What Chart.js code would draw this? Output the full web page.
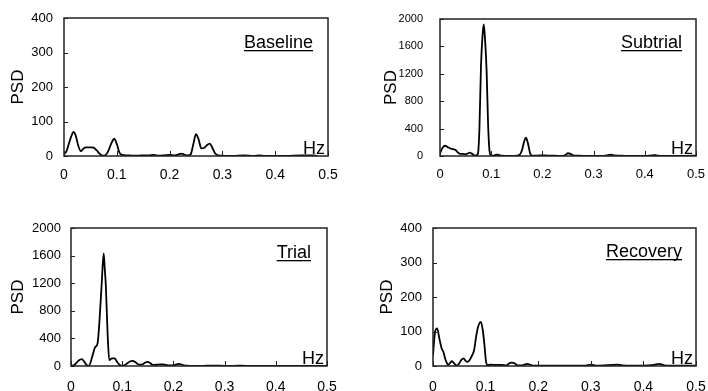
<!DOCTYPE html>
<html lang="en">
  <head>
    <meta charset="UTF-8" />
    <title>PSD panels</title>
    <style>
      body { margin: 0; background: #fff; width: 708px; height: 391px; overflow: hidden; }
      canvas { position: absolute; }
    </style>
  </head>
  <body>
    <canvas id="c1" width="354" height="195" style="left:0;top:0"></canvas>
    <canvas id="c2" width="354" height="195" style="left:354px;top:0"></canvas>
    <canvas id="c3" width="354" height="196" style="left:0;top:195px"></canvas>
    <canvas id="c4" width="354" height="196" style="left:354px;top:195px"></canvas>
    <script src="https://cdn.jsdelivr.net/npm/chart.js"></script>
    <script>
      const FONT = "'Liberation Sans', Arial, sans-serif";

      // Baseline
      const baseFreq = [0, 0.005, 0.01, 0.015, 0.018, 0.022, 0.027, 0.032, 0.037, 0.042, 0.05, 0.056, 0.062, 0.068, 0.073, 0.078, 0.084, 0.09, 0.095, 0.1, 0.105, 0.11, 0.12, 0.13, 0.14, 0.15, 0.16, 0.17, 0.18, 0.19, 0.2, 0.21, 0.216, 0.222, 0.228, 0.235, 0.24, 0.245, 0.25, 0.255, 0.26, 0.266, 0.271, 0.276, 0.281, 0.286, 0.292, 0.3, 0.32, 0.34, 0.36, 0.37, 0.38, 0.4, 0.42, 0.45, 0.47, 0.48];
      const basePsd = [5, 15, 40, 62, 70, 60, 30, 14, 22, 25, 25, 24, 16, 6, 1, 2, 15, 38, 50, 35, 10, 3, 2, 1, 1, 2, 2, 3, 1, 2, 3, 2, 4, 7, 4, 2, 5, 35, 63, 48, 22, 24, 32, 36, 24, 8, 2, 1, 0, 2, 0, 2, 0, 0, 0, 2, 2, 0];

      // Subtrial
      const subFreq = [0, 0.005, 0.01, 0.015, 0.02, 0.025, 0.03, 0.035, 0.04, 0.045, 0.05, 0.055, 0.058, 0.062, 0.066, 0.07, 0.074, 0.077, 0.08, 0.083, 0.0855, 0.088, 0.091, 0.094, 0.097, 0.1, 0.105, 0.11, 0.115, 0.12, 0.13, 0.14, 0.15, 0.155, 0.16, 0.164, 0.168, 0.172, 0.176, 0.18, 0.19, 0.2, 0.21, 0.22, 0.23, 0.24, 0.245, 0.25, 0.255, 0.26, 0.27, 0.28, 0.3, 0.32, 0.33, 0.335, 0.34, 0.36, 0.38, 0.4, 0.415, 0.42, 0.425, 0.44, 0.46, 0.48, 0.5];
      const subPsd = [40, 120, 150, 130, 110, 100, 90, 50, 30, 30, 25, 40, 50, 35, 15, 5, 30, 400, 1300, 1750, 1920, 1700, 1250, 450, 60, 10, 5, 20, 15, 5, 3, 2, 5, 15, 80, 200, 267, 180, 40, 5, 5, 10, 5, 5, 3, 2, 15, 40, 30, 10, 5, 3, 2, 2, 15, 20, 10, 3, 2, 2, 10, 12, 5, 2, 2, 2, 5];

      // Trial
      const trialFreq = [0, 0.005, 0.01, 0.015, 0.021, 0.026, 0.031, 0.035, 0.042, 0.047, 0.052, 0.056, 0.06, 0.0638, 0.066, 0.068, 0.0716, 0.0748, 0.08, 0.085, 0.09, 0.095, 0.1, 0.105, 0.11, 0.115, 0.12, 0.125, 0.13, 0.135, 0.14, 0.145, 0.15, 0.155, 0.16, 0.17, 0.18, 0.19, 0.2, 0.205, 0.21, 0.215, 0.22, 0.23, 0.24, 0.26, 0.27, 0.28, 0.3, 0.32, 0.33, 0.34, 0.36, 0.4, 0.45, 0.5];
      const trialPsd = [5, 10, 40, 80, 100, 60, 10, 5, 150, 270, 330, 700, 1200, 1633, 1400, 1170, 450, 85, 110, 110, 60, 15, 5, 15, 40, 65, 75, 60, 30, 20, 25, 50, 60, 40, 15, 20, 25, 10, 10, 20, 30, 25, 10, 3, 2, 3, 5, 5, 2, 3, 5, 3, 2, 2, 2, 2];

      // Recovery
      const recFreq = [0, 0.002, 0.004, 0.008, 0.012, 0.0165, 0.02, 0.023, 0.026, 0.029, 0.033, 0.036, 0.04, 0.045, 0.05, 0.054, 0.058, 0.062, 0.066, 0.07, 0.074, 0.078, 0.082, 0.086, 0.091, 0.095, 0.0985, 0.101, 0.104, 0.11, 0.12, 0.13, 0.14, 0.145, 0.15, 0.155, 0.16, 0.17, 0.175, 0.18, 0.185, 0.19, 0.2, 0.25, 0.29, 0.3, 0.31, 0.34, 0.35, 0.36, 0.4, 0.42, 0.43, 0.44, 0.45, 0.5];
      const recPsd = [30, 70, 100, 109, 80, 51, 40, 22, 10, 3, 10, 14, 8, 1, 8, 18, 22, 15, 12, 18, 30, 45, 85, 115, 128, 100, 50, 10, 3, 4, 3, 3, 2, 8, 10, 8, 2, 2, 5, 6, 3, 1, 1, 1, 1, 4, 1, 3, 4, 2, 1, 3, 6, 2, 1, 1];

      const xTicks = [0, 0.1, 0.2, 0.3, 0.4, 0.5];

      // frame, inner tick marks, panel name and "Hz"
      const framePlugin = {
        id: "frame",
        afterDraw(chart, args, o) {
          const { ctx, chartArea: a, scales } = chart;
          ctx.save();
          ctx.strokeStyle = "#222";
          ctx.lineWidth = 1.5;
          ctx.strokeRect(a.left, a.top, a.right - a.left, a.bottom - a.top);
          ctx.lineWidth = 1;
          scales.y.ticks.forEach((t) => {
            const y = Math.round(scales.y.getPixelForValue(t.value)) + 0.5;
            ctx.beginPath();
            ctx.moveTo(a.left, y);
            ctx.lineTo(a.left + 4, y);
            ctx.stroke();
          });
          scales.x.ticks.forEach((t) => {
            const x = Math.round(scales.x.getPixelForValue(t.value)) + 0.5;
            ctx.beginPath();
            ctx.moveTo(x, a.bottom);
            ctx.lineTo(x, a.bottom - 5);
            ctx.stroke();
          });
          ctx.fillStyle = "#000";
          ctx.textAlign = "right";
          ctx.textBaseline = "alphabetic";
          ctx.font = "18px " + FONT;
          const tx = a.right - o.inset;
          const ty = a.top + o.dy;
          ctx.fillText(o.title, tx, ty);
          const w = ctx.measureText(o.title).width;
          ctx.fillRect(tx - w, ty + 2, w, 1.3);
          ctx.fillText("Hz", a.right - 3, a.bottom - 2);
          ctx.restore();
        },
      };

      function makePanel(id, freq, psd, p) {
        const pts = freq.map((f, i) => ({ x: f, y: psd[i] }));
        return new Chart(document.getElementById(id), {
          type: "line",
          data: {
            datasets: [
              {
                data: pts,
                borderColor: "#000",
                borderWidth: 1.8,
                pointRadius: 0,
                cubicInterpolationMode: "monotone",
                fill: false,
              },
            ],
          },
          options: {
            responsive: false,
            animation: false,
            events: [],
            devicePixelRatio: 1,
            layout: { padding: { left: p.padLeft, right: p.padRight, top: p.padTop, bottom: 0 } },
            plugins: {
              legend: { display: false },
              tooltip: { enabled: false },
              frame: { title: p.title, inset: p.inset, dy: p.dy },
            },
            scales: {
              x: {
                type: "linear",
                min: 0,
                max: 0.5,
                grid: { display: false, drawTicks: false },
                border: { display: false },
                afterBuildTicks: (s) => { s.ticks = xTicks.map((v) => ({ value: v })); },
                ticks: {
                  color: "#000",
                  font: { family: FONT, size: p.xFont },
                  padding: p.xPad,
                  maxRotation: 0,
                  autoSkip: false,
                  callback: (v) => String(Math.round(v * 10) / 10),
                },
                afterFit: (s) => {
                  s.height = p.xHeight;
                  s.paddingLeft = 0;
                  s.paddingRight = 0;
                },
              },
              y: {
                min: 0,
                max: p.yMax,
                grid: { display: false, drawTicks: false },
                border: { display: false },
                ticks: {
                  stepSize: p.yMax / p.yCount,
                  color: "#000",
                  font: { family: FONT, size: p.yFont },
                  padding: p.yPad,
                  callback: (v) => String(v),
                },
                title: {
                  display: true,
                  text: "PSD",
                  color: "#000",
                  font: { family: FONT, size: 17 },
                  padding: 0,
                },
                afterFit: (s) => {
                  s.width = p.yWidth;
                  s.paddingTop = 0;
                  s.paddingBottom = 0;
                },
              },
            },
          },
          plugins: [framePlugin],
        });
      }

      makePanel("c1", baseFreq, basePsd, {
        title: "Baseline", inset: 15, dy: 30, yMax: 400, yCount: 4,
        padLeft: 8, padRight: 26, padTop: 18, yWidth: 56, xHeight: 39,
        xFont: 14, xPad: 11, yFont: 13, yPad: 11,
      });
      makePanel("c2", subFreq, subPsd, {
        title: "Subtrial", inset: 14, dy: 29, yMax: 2000, yCount: 5,
        padLeft: 27, padRight: 12, padTop: 19, yWidth: 59, xHeight: 39,
        xFont: 13, xPad: 11, yFont: 11, yPad: 17,
      });
      makePanel("c3", trialFreq, trialPsd, {
        title: "Trial", inset: 16, dy: 30, yMax: 2000, yCount: 5,
        padLeft: 8, padRight: 27, padTop: 33, yWidth: 63, xHeight: 25,
        xFont: 14, xPad: 13, yFont: 13, yPad: 10,
      });
      makePanel("c4", recFreq, recPsd, {
        title: "Recovery", inset: 14, dy: 29, yMax: 400, yCount: 4,
        padLeft: 23, padRight: 12, padTop: 33, yWidth: 56, xHeight: 25,
        xFont: 14, xPad: 13, yFont: 13, yPad: 11,
      });
    </script>
  </body>
</html>
